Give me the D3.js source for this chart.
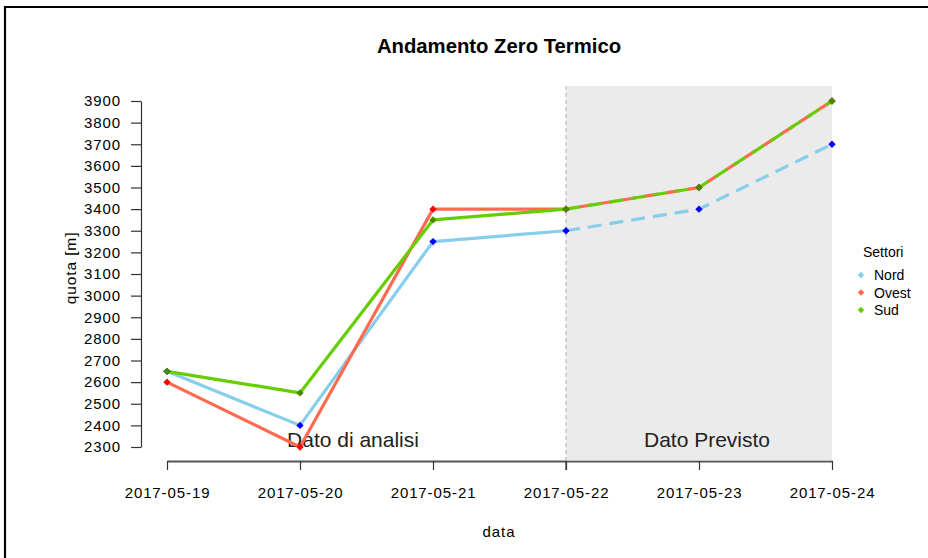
<!DOCTYPE html>
<html>
<head>
<meta charset="utf-8">
<script src="https://cdn.jsdelivr.net/npm/d3@7"></script>
<style>
  html, body { margin: 0; padding: 0; background: #fff; }
  svg { display: block; font-family: "Liberation Sans", Arial, sans-serif; }
</style>
</head>
<body>
<script>
const dates = ["2017-05-19", "2017-05-20", "2017-05-21", "2017-05-22", "2017-05-23", "2017-05-24"];
const nord  = [2650, 2400, 3250, 3300, 3400, 3700];
const ovest = [2600, 2300, 3400, 3400, 3500, 3900];
const sud   = [2650, 2550, 3350, 3400, 3500, 3900];
const yTicks = [2300, 2400, 2500, 2600, 2700, 2800, 2900, 3000, 3100, 3200, 3300, 3400, 3500, 3600, 3700, 3800, 3900];
const seriesNames = ["Nord", "Ovest", "Sud"];
const forecastStart = "2017-05-22";
const regionLabels = ["Dato di analisi", "Dato Previsto"];

const W = 928, H = 558;
const svg = d3.select("body").append("svg").attr("width", W).attr("height", H);
const FF = "Liberation Sans, Arial, sans-serif";

const parse = d3.timeParse("%Y-%m-%d");
const x = d3.scaleTime().domain([parse(dates[0]), parse(dates[dates.length - 1])]).range([167, 832]);
const y = d3.scaleLinear().domain([2300, 3900]).range([447, 101]);

// frame
svg.append("line").attr("x1", 5).attr("x2", W).attr("y1", 7).attr("y2", 7).attr("stroke", "#000").attr("stroke-width", 2.2);
svg.append("line").attr("x1", 5).attr("x2", 5).attr("y1", 6).attr("y2", H).attr("stroke", "#000").attr("stroke-width", 2.2);

// title
svg.append("text").attr("x", 499).attr("y", 53).attr("text-anchor", "middle")
  .attr("font-size", 20.3).attr("font-weight", "bold").attr("fill", "#000").text("Andamento Zero Termico");

// x axis
const xAxisY = 461;
const xAxis = d3.axisBottom(x).tickValues(dates.map(parse)).tickFormat(d3.timeFormat("%Y-%m-%d")).tickSize(9).tickSizeOuter(0);
const gx = svg.append("g").attr("transform", `translate(0,${xAxisY})`).call(xAxis);
gx.select(".domain").attr("stroke", "#555").attr("stroke-width", 2.2);
gx.selectAll(".tick line").attr("stroke", "#333").attr("stroke-width", 1.2);
gx.selectAll(".tick text").attr("font-size", 15).attr("letter-spacing", 0.9).attr("fill", "#000").attr("dy", 0).attr("y", 37)
  .attr("font-family", FF);

// shaded forecast region (drawn over axis so the axis looks lighter)
const xs = x(parse(forecastStart)), xe = x(parse(dates[dates.length - 1]));
svg.append("rect").attr("x", xs).attr("y", 86).attr("width", xe - xs).attr("height", xAxisY - 86)
  .attr("fill", "#d8d8d8").attr("fill-opacity", 0.52);
svg.append("line").attr("x1", xs).attr("x2", xs).attr("y1", 86).attr("y2", xAxisY)
  .attr("stroke", "#bbb").attr("stroke-width", 1.2).attr("stroke-dasharray", "4,3");
svg.append("line").attr("x1", xs).attr("x2", xs).attr("y1", xAxisY).attr("y2", xAxisY + 9).attr("stroke", "#333").attr("stroke-width", 1.2);

// y axis
const yAxis = d3.axisLeft(y).tickValues(yTicks).tickFormat(d3.format("d")).tickSize(10).tickSizeOuter(0);
const gy = svg.append("g").attr("transform", "translate(141,0)").call(yAxis);
gy.select(".domain").attr("stroke", "#333").attr("stroke-width", 1.2);
gy.selectAll(".tick line").attr("stroke", "#333").attr("stroke-width", 1.2);
gy.selectAll(".tick text").attr("font-size", 15).attr("letter-spacing", 0.9).attr("fill", "#000").attr("x", -20)
  .attr("font-family", FF);

// axis titles
svg.append("text").attr("x", 499).attr("y", 537).attr("text-anchor", "middle").attr("font-size", 15).attr("letter-spacing", 0.9).attr("fill", "#000").text("data");
svg.append("text").attr("transform", "translate(76,268) rotate(-90)").attr("text-anchor", "middle").attr("font-size", 15.5).attr("letter-spacing", 0.9).attr("fill", "#000").text("quota [m]");

// region labels
svg.append("text").attr("x", 353).attr("y", 447).attr("text-anchor", "middle").attr("font-size", 21).attr("fill", "#222").text(regionLabels[0]);
svg.append("text").attr("x", 707).attr("y", 447).attr("text-anchor", "middle").attr("font-size", 21).attr("fill", "#222").text(regionLabels[1]);

// series
const series = [
  { name: seriesNames[0], values: nord,  line: "#87ceeb", point: "#0000ff", legend: "#87ceeb", offset: 0 },
  { name: seriesNames[1], values: ovest, line: "#ff6a50", point: "#ff0000", legend: "#ff6a50", offset: 9 },
  { name: seriesNames[2], values: sud,   line: "#66cd00", point: "#458b00", legend: "#66cd00", offset: 0 }
];
const splitIdx = dates.indexOf(forecastStart);
const lineGen = d3.line().x(d => x(parse(d.date))).y(d => y(d.v));

series.forEach(s => {
  const pts = dates.map((d, i) => ({ date: d, v: s.values[i] }));
  const solid = pts.slice(0, splitIdx + 1);
  const dashed = pts.slice(splitIdx);
  svg.append("path").datum(solid).attr("d", lineGen).attr("fill", "none")
    .attr("stroke", s.line).attr("stroke-width", 3.2).attr("stroke-linejoin", "round");
  svg.append("path").datum(dashed).attr("d", lineGen).attr("fill", "none")
    .attr("stroke", s.line).attr("stroke-width", 3.2).attr("stroke-dasharray", "14,8").attr("stroke-dashoffset", s.offset);
});
series.forEach(s => {
  dates.forEach((d, i) => {
    svg.append("rect").attr("x", -2.6).attr("y", -2.6).attr("width", 5.2).attr("height", 5.2)
      .attr("transform", `translate(${x(parse(d))},${y(s.values[i])}) rotate(45)`)
      .attr("fill", s.point);
  });
});

// legend
svg.append("text").attr("x", 863).attr("y", 257).attr("font-size", 14).attr("fill", "#000").text("Settori");
series.forEach((s, i) => {
  const yy = 275 + i * 17.5;
  svg.append("rect").attr("x", -2.3).attr("y", -2.3).attr("width", 4.6).attr("height", 4.6)
    .attr("transform", `translate(861,${yy}) rotate(45)`).attr("fill", s.legend);
  svg.append("text").attr("x", 874).attr("y", yy + 5).attr("font-size", 14).attr("fill", "#000").text(s.name);
});
</script>
</body>
</html>
